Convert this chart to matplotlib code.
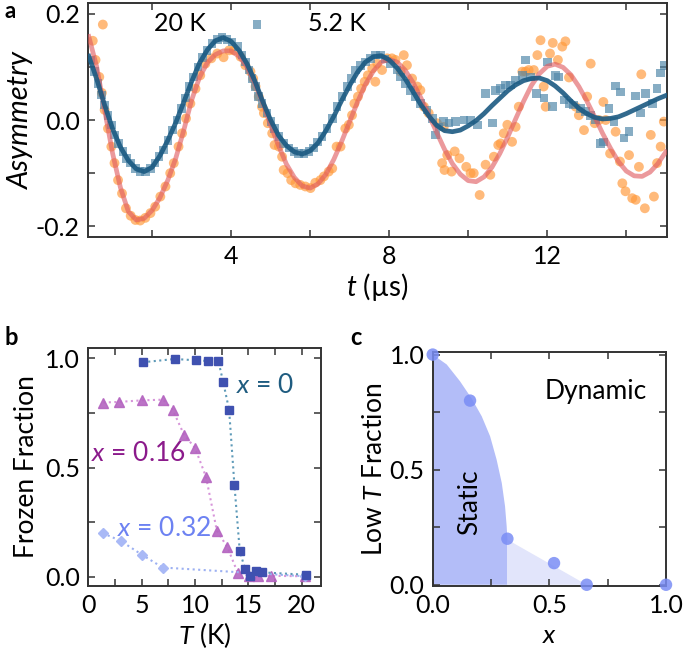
import matplotlib
matplotlib.use("Agg")
import matplotlib.pyplot as plt
from matplotlib.ticker import MultipleLocator, FixedLocator

plt.rcParams["font.family"] = ["Lato", "DejaVu Sans"]
plt.rcParams["axes.unicode_minus"] = False
plt.rcParams["mathtext.fontset"] = "custom"
plt.rcParams["mathtext.it"] = "Lato:italic"
plt.rcParams["mathtext.rm"] = "Lato"

# ---- panel a: muSR asymmetry, 20 K and 5.2 K ----
t_20k = [0.50, 0.57, 0.665, 0.73, 0.80, 0.885, 0.97, 1.05, 1.14, 1.24, 1.34, 1.46,
         1.58, 1.70, 1.83, 1.96, 2.08, 2.21, 2.34, 2.46, 2.55, 2.67, 2.76, 2.86,
         2.97, 3.10, 3.22, 3.35, 3.50, 3.65, 3.81, 3.95, 4.07, 4.24, 4.36, 4.49,
         4.56, 4.62, 4.70, 4.78, 4.83, 4.93, 5.04, 5.10, 5.21, 5.29, 5.33, 5.43,
         5.52, 5.63, 5.75, 5.88, 6.01, 6.13, 6.26, 6.35, 6.47, 6.56, 6.67, 6.77,
         6.89, 6.98, 7.06, 7.12, 7.21, 7.29, 7.38, 7.46, 7.57, 7.65, 7.70, 7.82,
         7.95, 8.07, 8.16, 8.29, 8.37, 8.45, 8.58, 8.71, 8.79, 8.88, 9.00, 9.21,
         9.34, 9.38, 9.40, 9.47, 9.58, 9.66, 9.78, 9.95, 10.06, 10.14, 10.29, 10.44,
         10.56, 10.65, 10.76, 10.82, 10.90, 10.99, 11.11, 11.20, 11.28, 11.37, 11.45,
         11.53, 11.66, 11.75, 11.83, 11.91, 11.96, 12.07, 12.14, 12.27, 12.38, 12.46,
         12.55, 12.72, 12.80, 12.93, 13.01, 13.10, 13.20, 13.31, 13.42, 13.48, 13.59,
         13.73, 13.84, 13.90, 13.98, 14.07, 14.15, 14.24, 14.32, 14.38, 14.47, 14.62,
         14.70, 14.78, 14.87, 14.95]
a_20k = [0.149, 0.113, 0.081, 0.051, 0.019, -0.016, -0.050, -0.081, -0.113, -0.138, -0.166, -0.180,
         -0.188, -0.189, -0.184, -0.175, -0.163, -0.144, -0.125, -0.100, -0.081, -0.050, -0.025, 0.003,
         0.031, 0.059, 0.084, 0.106, 0.116, 0.125, 0.118, 0.131, 0.131, 0.119, 0.103, 0.091,
         0.078, 0.063, 0.044, 0.025, 0.013, -0.006, -0.025, -0.047, -0.050, -0.069, -0.094, -0.100,
         -0.113, -0.119, -0.122, -0.125, -0.128, -0.118, -0.113, -0.106, -0.097, -0.091, -0.050, -0.050,
         -0.016, -0.009, 0.009, 0.031, 0.044, 0.059, 0.072, 0.084, 0.097, 0.072, 0.106, 0.094,
         0.116, 0.116, 0.113, 0.091, 0.122, 0.103, 0.078, 0.063, 0.056, 0.025, 0.013, -0.006,
         -0.081, -0.013, -0.094, -0.066, -0.097, -0.059, -0.072, -0.088, -0.100, -0.100, -0.141, -0.084,
         -0.103, -0.069, -0.047, -0.044, -0.025, -0.009, -0.041, -0.013, 0.025, 0.091, 0.091,
         0.094, 0.094, 0.122, 0.150, 0.063, 0.025, 0.125, 0.145, 0.113, 0.138, 0.148,
         0.080, 0.025, 0.009, -0.019, 0.044, 0.106, -0.006, 0.000, 0.034, 0.000, -0.063,
         -0.022, -0.078, -0.119, -0.134, -0.066, -0.147, -0.150, -0.088, 0.086, -0.166, -0.028,
         -0.144, -0.081, -0.050, -0.003]

t_5k = [0.46, 0.55, 0.63, 0.72, 0.80, 0.885, 0.97, 1.05, 1.155, 1.26, 1.36, 1.46,
        1.58, 1.70, 1.83, 1.96, 2.08, 2.18, 2.29, 2.40, 2.52, 2.63, 2.74, 2.84,
        2.94, 3.05, 3.16, 3.28, 3.39, 3.52, 3.65, 3.77, 3.90, 4.02, 4.17, 4.28,
        4.36, 4.45, 4.53, 4.62, 4.70, 4.78, 4.91, 5.01, 5.10, 5.21, 5.33, 5.46,
        5.59, 5.71, 5.84, 5.97, 6.09, 6.19, 6.30, 6.43, 6.56, 6.68, 6.81, 6.94,
        7.04, 7.15, 7.27, 7.40, 7.53, 7.65, 7.78, 7.90, 8.03, 8.20, 8.29, 8.41,
        8.54, 8.67, 8.79, 8.96, 9.09, 9.17, 9.26, 9.38, 9.51, 9.68, 9.89, 10.06,
        10.23, 10.44, 10.61, 10.69, 10.82, 10.94, 11.07, 11.20, 11.37, 11.45, 11.58, 11.73,
        11.92, 12.00, 12.13, 12.21, 12.29, 12.42, 12.55, 12.67, 12.84, 12.97, 13.10, 13.22,
        13.35, 13.43, 13.56, 13.69, 13.73, 13.86, 13.94, 14.07, 14.24, 14.36, 14.49, 14.66,
        14.78, 14.87, 14.95]
a_5k = [0.113, 0.091, 0.069, 0.047, 0.028, 0.009, -0.009, -0.028, -0.044, -0.059, -0.072, -0.081,
        -0.091, -0.097, -0.097, -0.091, -0.081, -0.069, -0.056, -0.038, -0.019, 0.000, 0.022, 0.041,
        0.063, 0.081, 0.100, 0.118, 0.131, 0.144, 0.151, 0.155, 0.151, 0.147, 0.138, 0.122,
        0.109, 0.094, 0.078, 0.063, 0.044, 0.031, 0.013, -0.003, -0.016, -0.031, -0.044, -0.053,
        -0.059, -0.063, -0.063, -0.059, -0.053, -0.041, -0.031, -0.016, 0.003, 0.025, 0.044, 0.063,
        0.078, 0.094, 0.103, 0.109, 0.116, 0.122, 0.122, 0.115, 0.106, 0.094, 0.081, 0.069,
        0.056, 0.044, 0.031, 0.019, 0.003, -0.028, -0.013, -0.003, -0.006, -0.003, 0.000, 0.000,
        -0.009, 0.050, -0.006, 0.056, 0.059, 0.066, 0.066, 0.075, 0.084, 0.113, 0.081, 0.050,
        0.041, 0.109, 0.025, 0.084, 0.081, 0.038, 0.031, 0.028, 0.022, 0.016, 0.009, 0.000,
        -0.044, -0.041, 0.022, -0.003, 0.064, 0.053, -0.034, -0.022, 0.045, 0.013, 0.050, 0.031,
        0.059, 0.088, 0.103]

# fitted curves, every 0.2 us
t_fit = [0.4, 0.6, 0.8, 1.0, 1.2, 1.4, 1.6, 1.8, 2.0, 2.2, 2.4, 2.6, 2.8, 3.0, 3.2, 3.4,
         3.6, 3.8, 4.0, 4.2, 4.4, 4.6, 4.8, 5.0, 5.2, 5.4, 5.6, 5.8, 6.0, 6.2, 6.4, 6.6,
         6.8, 7.0, 7.2, 7.4, 7.6, 7.8, 8.0, 8.2, 8.4, 8.6, 8.8, 9.0, 9.2, 9.4, 9.6, 9.8,
         10.0, 10.2, 10.4, 10.6, 10.8, 11.0, 11.2, 11.4, 11.6, 11.8, 12.0, 12.2, 12.4, 12.6,
         12.8, 13.0, 13.2, 13.4, 13.6, 13.8, 14.0, 14.2, 14.4, 14.6, 14.8, 15.0]
fit_20k = [0.157, 0.100, 0.019, -0.062, -0.127, -0.172, -0.188, -0.185, -0.170, -0.146, -0.113, -0.072,
           -0.020, 0.037, 0.080, 0.108, 0.123, 0.130, 0.130, 0.120, 0.100, 0.070, 0.033, -0.010,
           -0.048, -0.083, -0.108, -0.124, -0.128, -0.120, -0.102, -0.074, -0.040, -0.003, 0.034, 0.067,
           0.092, 0.109, 0.114, 0.109, 0.094, 0.071, 0.042, 0.010, -0.023, -0.055, -0.082, -0.102,
           -0.114, -0.116, -0.107, -0.089, -0.063, -0.032, 0.002, 0.035, 0.065, 0.087, 0.101, 0.105,
           0.099, 0.085, 0.063, 0.036, 0.006, -0.025, -0.053, -0.078, -0.096, -0.105, -0.106, -0.098,
           -0.082, -0.060]
fit_5k = [0.120, 0.077, 0.028, -0.016, -0.051, -0.076, -0.092, -0.097, -0.089, -0.067, -0.038, -0.005,
          0.033, 0.072, 0.107, 0.132, 0.149, 0.155, 0.148, 0.131, 0.106, 0.074, 0.035, 0.000,
          -0.029, -0.048, -0.060, -0.064, -0.058, -0.043, -0.020, 0.007, 0.037, 0.065, 0.090, 0.109,
          0.119, 0.121, 0.113, 0.098, 0.078, 0.054, 0.029, 0.008, -0.010, -0.020, -0.022, -0.019,
          -0.011, -0.001, 0.012, 0.027, 0.041, 0.055, 0.066, 0.074, 0.078, 0.079, 0.074, 0.064,
          0.051, 0.036, 0.022, 0.012, 0.005, 0.002, 0.003, 0.006, 0.012, 0.019, 0.026, 0.033,
          0.040, 0.046]

# ---- panel b: frozen fraction vs T ----
T_x0 = [5.1, 8.1, 10.1, 11.2, 12.2, 12.65, 13.2, 13.7, 14.2, 14.7, 15.2, 15.7, 16.25, 20.4]
f_x0 = [0.981, 0.996, 0.990, 0.987, 0.985, 0.890, 0.764, 0.420, 0.119, 0.035, 0.004, 0.026, 0.021, 0.010]
T_x016 = [1.4, 2.9, 5.0, 7.0, 7.9, 8.97, 10.0, 11.03, 12.05, 13.05, 14.0, 15.1, 15.94, 17.1, 20.3]
f_x016 = [0.797, 0.800, 0.807, 0.810, 0.765, 0.650, 0.590, 0.458, 0.212, 0.135, 0.020, 0.004, 0.005, 0.005, 0.003]
T_x032 = [1.34, 3.03, 5.0, 6.97, 20.3]
f_x032 = [0.200, 0.165, 0.102, 0.043, 0.003]

# ---- panel c: low-T frozen fraction vs x ----
x_c = [0.0, 0.16, 0.32, 0.52, 0.66, 1.0]
frac_c = [1.0, 0.80, 0.20, 0.094, 0.0, 0.0]
static_x = [0.0, 0.06, 0.117, 0.167, 0.21, 0.246, 0.274, 0.296, 0.31, 0.317, 0.32, 0.32, 0.0]
static_y = [1.0, 0.957, 0.884, 0.809, 0.732, 0.645, 0.543, 0.442, 0.341, 0.254, 0.196, 0.0, 0.0]
tail_x = [0.32, 0.66, 0.32]
tail_y = [0.196, 0.0, 0.0]

TICK = 18
LAB = 19


def frame(ax):
    for s in ax.spines.values():
        s.set_linewidth(1.4)
        s.set_color("#333333")
    ax.tick_params(which="both", direction="in", top=True, right=True,
                   length=5, width=1.1, color="#333333", labelsize=TICK, pad=6)


fig = plt.figure(figsize=(6.85, 6.56), dpi=100)

# panel a
ax = fig.add_axes([0.1285, 0.6387, 0.8452, 0.3567])
ax.scatter(t_20k, a_20k, s=50, marker="o", color="#ff9a3c", alpha=0.68,
           edgecolors="none", label="20 K", zorder=2)
ax.scatter(t_5k, a_5k, s=38, marker="s", color="#4f86a8", alpha=0.68,
           edgecolors="none", label="5.2 K", zorder=2)
ax.plot(t_fit, fit_20k, color="#e05a5f", lw=3.4, alpha=0.62, zorder=3)
ax.plot(t_fit, fit_5k, color="#1b5a82", lw=3.4, alpha=0.9, zorder=3)
ax.set_xlim(0.38, 15.03)
ax.set_ylim(-0.22, 0.22)
ax.xaxis.set_major_locator(FixedLocator([2, 4, 6, 8, 10, 12, 14]))
ax.set_xticklabels(["", "4", "", "8", "", "12", ""])
ax.yaxis.set_major_locator(FixedLocator([-0.2, -0.1, 0.0, 0.1, 0.2]))
ax.set_yticklabels(["-0.2", "", "0.0", "", "0.2"])
frame(ax)
ax.set_ylabel("Asymmetry", fontsize=21, style="italic", labelpad=1)
ax.set_xlabel(r"$t$ (µs)", fontsize=20, labelpad=2)
ax.legend(loc="center left", ncol=2, frameon=False, fontsize=18,
          handlelength=1.0, handletextpad=1.55, columnspacing=1.55,
          borderaxespad=0.0, borderpad=0.0, scatterpoints=1,
          bbox_to_anchor=(0.004, 0.912))

# panel b
ax = fig.add_axes([0.129, 0.1072, 0.3393, 0.3619])
ax.plot(T_x0, f_x0, ls=":", lw=1.5, color="#5e9ab8", marker="s", ms=5.5,
        mfc="#3f51b0", mec="#3f51b0", zorder=3)
ax.plot(T_x016, f_x016, ls=":", lw=1.5, color="#d38ad6", marker="^", ms=7,
        mfc="#b464c0", mec="#b464c0", alpha=0.9, zorder=2)
ax.plot(T_x032, f_x032, ls=":", lw=1.5, color="#9cb0f2", marker="D", ms=5.5,
        mfc="#a9b9f6", mec="#a9b9f6", zorder=2)
ax.text(16.6, 0.875, r"$x$ = 0", color="#1f5c80", fontsize=LAB, ha="center", va="center")
ax.text(4.7, 0.565, r"$x$ = 0.16", color="#8b1a8b", fontsize=LAB, ha="center", va="center")
ax.text(7.1, 0.222, r"$x$ = 0.32", color="#6d82f2", fontsize=LAB, ha="center", va="center")
ax.set_xlim(0, 21.8)
ax.set_ylim(-0.04, 1.045)
ax.xaxis.set_major_locator(MultipleLocator(5))
ax.xaxis.set_minor_locator(MultipleLocator(2.5))
ax.yaxis.set_major_locator(MultipleLocator(0.5))
ax.yaxis.set_minor_locator(MultipleLocator(0.25))
frame(ax)
ax.yaxis.set_major_formatter(plt.FuncFormatter(lambda v, p: f"{v:.1f}"))
ax.set_ylabel("Frozen Fraction", fontsize=LAB, labelpad=4)
ax.set_xlabel(r"$T$ (K)", fontsize=LAB, labelpad=2)

# panel c
ax = fig.add_axes([0.6317, 0.1072, 0.3406, 0.3558])
ax.fill(static_x, static_y, color="#b3bdf8", lw=0, zorder=1)
ax.fill(tail_x, tail_y, color="#e2e5fb", lw=0, zorder=1)
ax.scatter(x_c, frac_c, s=80, color="#7a8df5", alpha=0.85, edgecolors="none",
           zorder=3, clip_on=False)
ax.text(0.16, 0.36, "Static", rotation=90, fontsize=LAB, ha="center", va="center")
ax.text(0.70, 0.84, "Dynamic", fontsize=LAB, ha="center", va="center")
ax.set_xlim(0, 1.0)
ax.set_ylim(-0.004, 1.01)
ax.xaxis.set_major_locator(MultipleLocator(0.5))
ax.xaxis.set_minor_locator(MultipleLocator(0.25))
ax.yaxis.set_major_locator(MultipleLocator(0.5))
ax.yaxis.set_minor_locator(MultipleLocator(0.25))
frame(ax)
ax.xaxis.set_major_formatter(plt.FuncFormatter(lambda v, p: f"{v:.1f}"))
ax.yaxis.set_major_formatter(plt.FuncFormatter(lambda v, p: f"{v:.1f}"))
ax.set_ylabel(r"Low $T$ Fraction", fontsize=LAB, labelpad=2)
ax.set_xlabel(r"$x$", fontsize=LAB, labelpad=4)

fig.text(0.006, 0.982, "a", fontsize=16, fontweight="bold", va="center")
fig.text(0.006, 0.485, "b", fontsize=17, fontweight="bold", va="center")
fig.text(0.512, 0.485, "c", fontsize=17, fontweight="bold", va="center")

fig.savefig("out.png", dpi=100)
